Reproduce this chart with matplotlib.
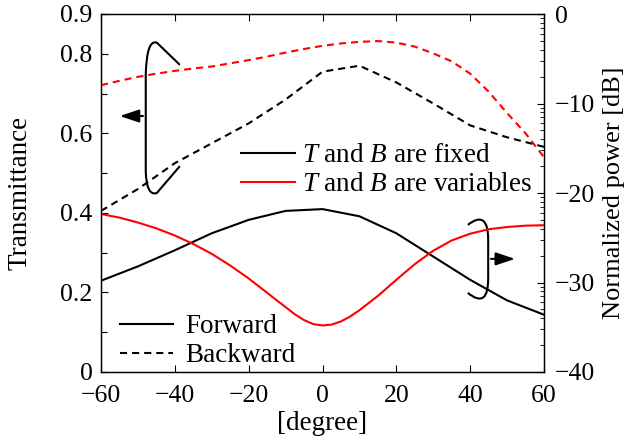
import numpy as np
import matplotlib
matplotlib.use('Agg')
import matplotlib.pyplot as plt
from matplotlib.lines import Line2D
from matplotlib.path import Path
from matplotlib.patches import PathPatch

plt.rcParams['font.family'] = ['Liberation Serif', 'DejaVu Serif']
plt.rcParams['mathtext.fontset'] = 'custom'
plt.rcParams['mathtext.rm'] = 'Liberation Serif'
plt.rcParams['mathtext.it'] = 'Liberation Serif:italic'
plt.rcParams['font.size'] = 19.5

# angle grids [degree]
ang10 = [-60, -50, -40, -30, -20, -10, 0, 10, 20, 30, 40, 50, 60]
ang5 = [-60, -55, -50, -45, -40, -35, -30, -25, -20, -15, -10, -5, 0,
        5, 10, 15, 20, 25, 30, 35, 40, 45, 50, 55, 60]
ang_fv = [-60, -55, -50, -45, -40, -35, -30, -25, -20, -15, -10, -7.5, -5,
          -2.5, 0, 2.5, 5, 7.5, 10, 15, 20, 25, 30, 35, 40, 45, 50, 55, 60]

# backward transmittance (left axis)
back_fixed = [0.405, 0.46, 0.525, 0.575, 0.625, 0.685, 0.755, 0.77, 0.728,
              0.675, 0.62, 0.59, 0.566]
back_var = [0.721, 0.732, 0.742, 0.750, 0.757, 0.763, 0.768, 0.776, 0.784,
            0.793, 0.803, 0.812, 0.820, 0.826, 0.830, 0.832, 0.828, 0.818,
            0.801, 0.781, 0.75, 0.705, 0.651, 0.60, 0.54]

# forward normalized power [dB] (right axis)
fwd_fixed = [-29.8, -28.2, -26.4, -24.5, -23.0, -22.0, -21.8, -22.6, -24.5,
             -27.1, -29.7, -32.0, -33.6]
fwd_var = [-22.35, -22.75, -23.3, -23.95, -24.75, -25.7, -26.8, -28.1, -29.55,
           -31.15, -32.75, -33.55, -34.2, -34.65, -34.8, -34.7, -34.35, -33.8,
           -33.1, -31.5, -29.7, -27.95, -26.45, -25.3, -24.55, -24.05, -23.8,
           -23.65, -23.6]

xticks = [-60, -40, -20, 0, 20, 40, 60]
lticks = [0, 0.2, 0.4, 0.6, 0.8, 0.9]
lticklabels = ['0', '0.2', '0.4', '0.6', '0.8', '0.9']
rticks = [-40, -30, -20, -10, 0]

fig = plt.figure(figsize=(6.28, 4.43), dpi=100)
ax = fig.add_axes([101/628, 71/443, 443/628, 358/443])
ax2 = ax.twinx()

dash = (3.4, 2.4)
ax.plot(ang10, back_fixed, color='k', lw=1.5, ls=(0, dash))
ax.plot(ang5, back_var, color='red', lw=1.5, ls=(0, dash))
ax2.plot(ang10, fwd_fixed, color='k', lw=1.5)
ax2.plot(ang_fv, fwd_var, color='red', lw=1.5)

ax.set_xlim(-60, 60)
ax.set_ylim(0, 0.9)
ax2.set_ylim(-40, 0)
ax.set_xticks(xticks)
ax.set_yticks(lticks)
ax.set_yticklabels(lticklabels)
ax.set_yticks([0.1, 0.3, 0.5, 0.7], minor=True)
ax2.set_yticks(rticks)
rminor = []
for top in [0, -10, -20, -30]:
    for k in range(2, 10):
        rminor.append(top - 10 * (1 - np.log10(k)))
ax2.set_yticks(rminor, minor=True)

ax.tick_params(which='both', direction='in', top=True, right=False, labelsize=18.5)
ax.tick_params(axis='y', pad=6)
ax.tick_params(axis='x', pad=9)
ax.tick_params(which='major', length=5, width=0.8)
ax.tick_params(which='minor', length=4, width=0.8)
ax2.tick_params(which='both', direction='in', pad=8, labelsize=18.5)
ax2.tick_params(which='major', length=5, width=0.8)
ax2.tick_params(which='minor', length=3, width=0.6)
for a in (ax, ax2):
    for s in a.spines.values():
        s.set_linewidth(0.9)

ax.set_xlabel('[degree]')
ax.xaxis.set_label_coords(0.5, -0.108)
ax.set_ylabel('Transmittance')
ax.yaxis.set_label_coords(-0.155, 0.5)
ax2.set_ylabel('Normalized power [dB]', fontsize=19)
ax2.yaxis.set_label_coords(1.134, 0.5)

# legends
h1 = [Line2D([], [], color='k', lw=1.5), Line2D([], [], color='red', lw=1.5)]
leg1 = ax2.legend(h1, ['$T$ and $B$ are fixed', '$T$ and $B$ are variables'],
                  loc='upper left', bbox_to_anchor=(140/443, 1 - 129/358),
                  frameon=False, handlelength=2.0, handletextpad=0.25,
                  labelspacing=0.15, borderpad=0, borderaxespad=0)
h2 = [Line2D([], [], color='k', lw=1.5), Line2D([], [], color='k', lw=1.5, ls=(0, dash))]
leg2 = ax2.legend(h2, ['Forward', 'Backward'],
                  loc='upper left', bbox_to_anchor=(19/443, 1 - 300/358),
                  frameon=False, handlelength=1.95, handletextpad=0.45,
                  labelspacing=0.15, borderpad=0, borderaxespad=0)
ax2.add_artist(leg1)

# bracket marks with arrows (axes fraction)
lb = Path([(0.178, 0.858), (0.126, 0.92), (0.103, 0.93), (0.101, 0.83),
           (0.101, 0.56), (0.103, 0.49), (0.126, 0.5), (0.178, 0.575)],
          [Path.MOVETO, Path.LINETO, Path.CURVE3, Path.CURVE3,
           Path.LINETO, Path.CURVE3, Path.CURVE3, Path.LINETO])
ax2.add_patch(PathPatch(lb, transform=ax.transAxes, fill=False, lw=1.5, ec='k'))
ax2.annotate('', xy=(0.036, 0.715), xytext=(0.101, 0.715), xycoords='axes fraction',
             arrowprops=dict(arrowstyle='-|>,head_length=0.6,head_width=0.2', lw=1.5, color='k'))

rb = Path([(0.828, 0.411), (0.874, 0.455), (0.874, 0.37),
           (0.874, 0.26), (0.874, 0.175), (0.828, 0.221)],
          [Path.MOVETO, Path.CURVE3, Path.CURVE3,
           Path.LINETO, Path.CURVE3, Path.CURVE3])
ax2.add_patch(PathPatch(rb, transform=ax.transAxes, fill=False, lw=1.5, ec='k'))
ax2.annotate('', xy=(0.941, 0.316), xytext=(0.874, 0.316), xycoords='axes fraction',
             arrowprops=dict(arrowstyle='-|>,head_length=0.6,head_width=0.2', lw=1.5, color='k'))

fig.savefig('out.png', dpi=100)
